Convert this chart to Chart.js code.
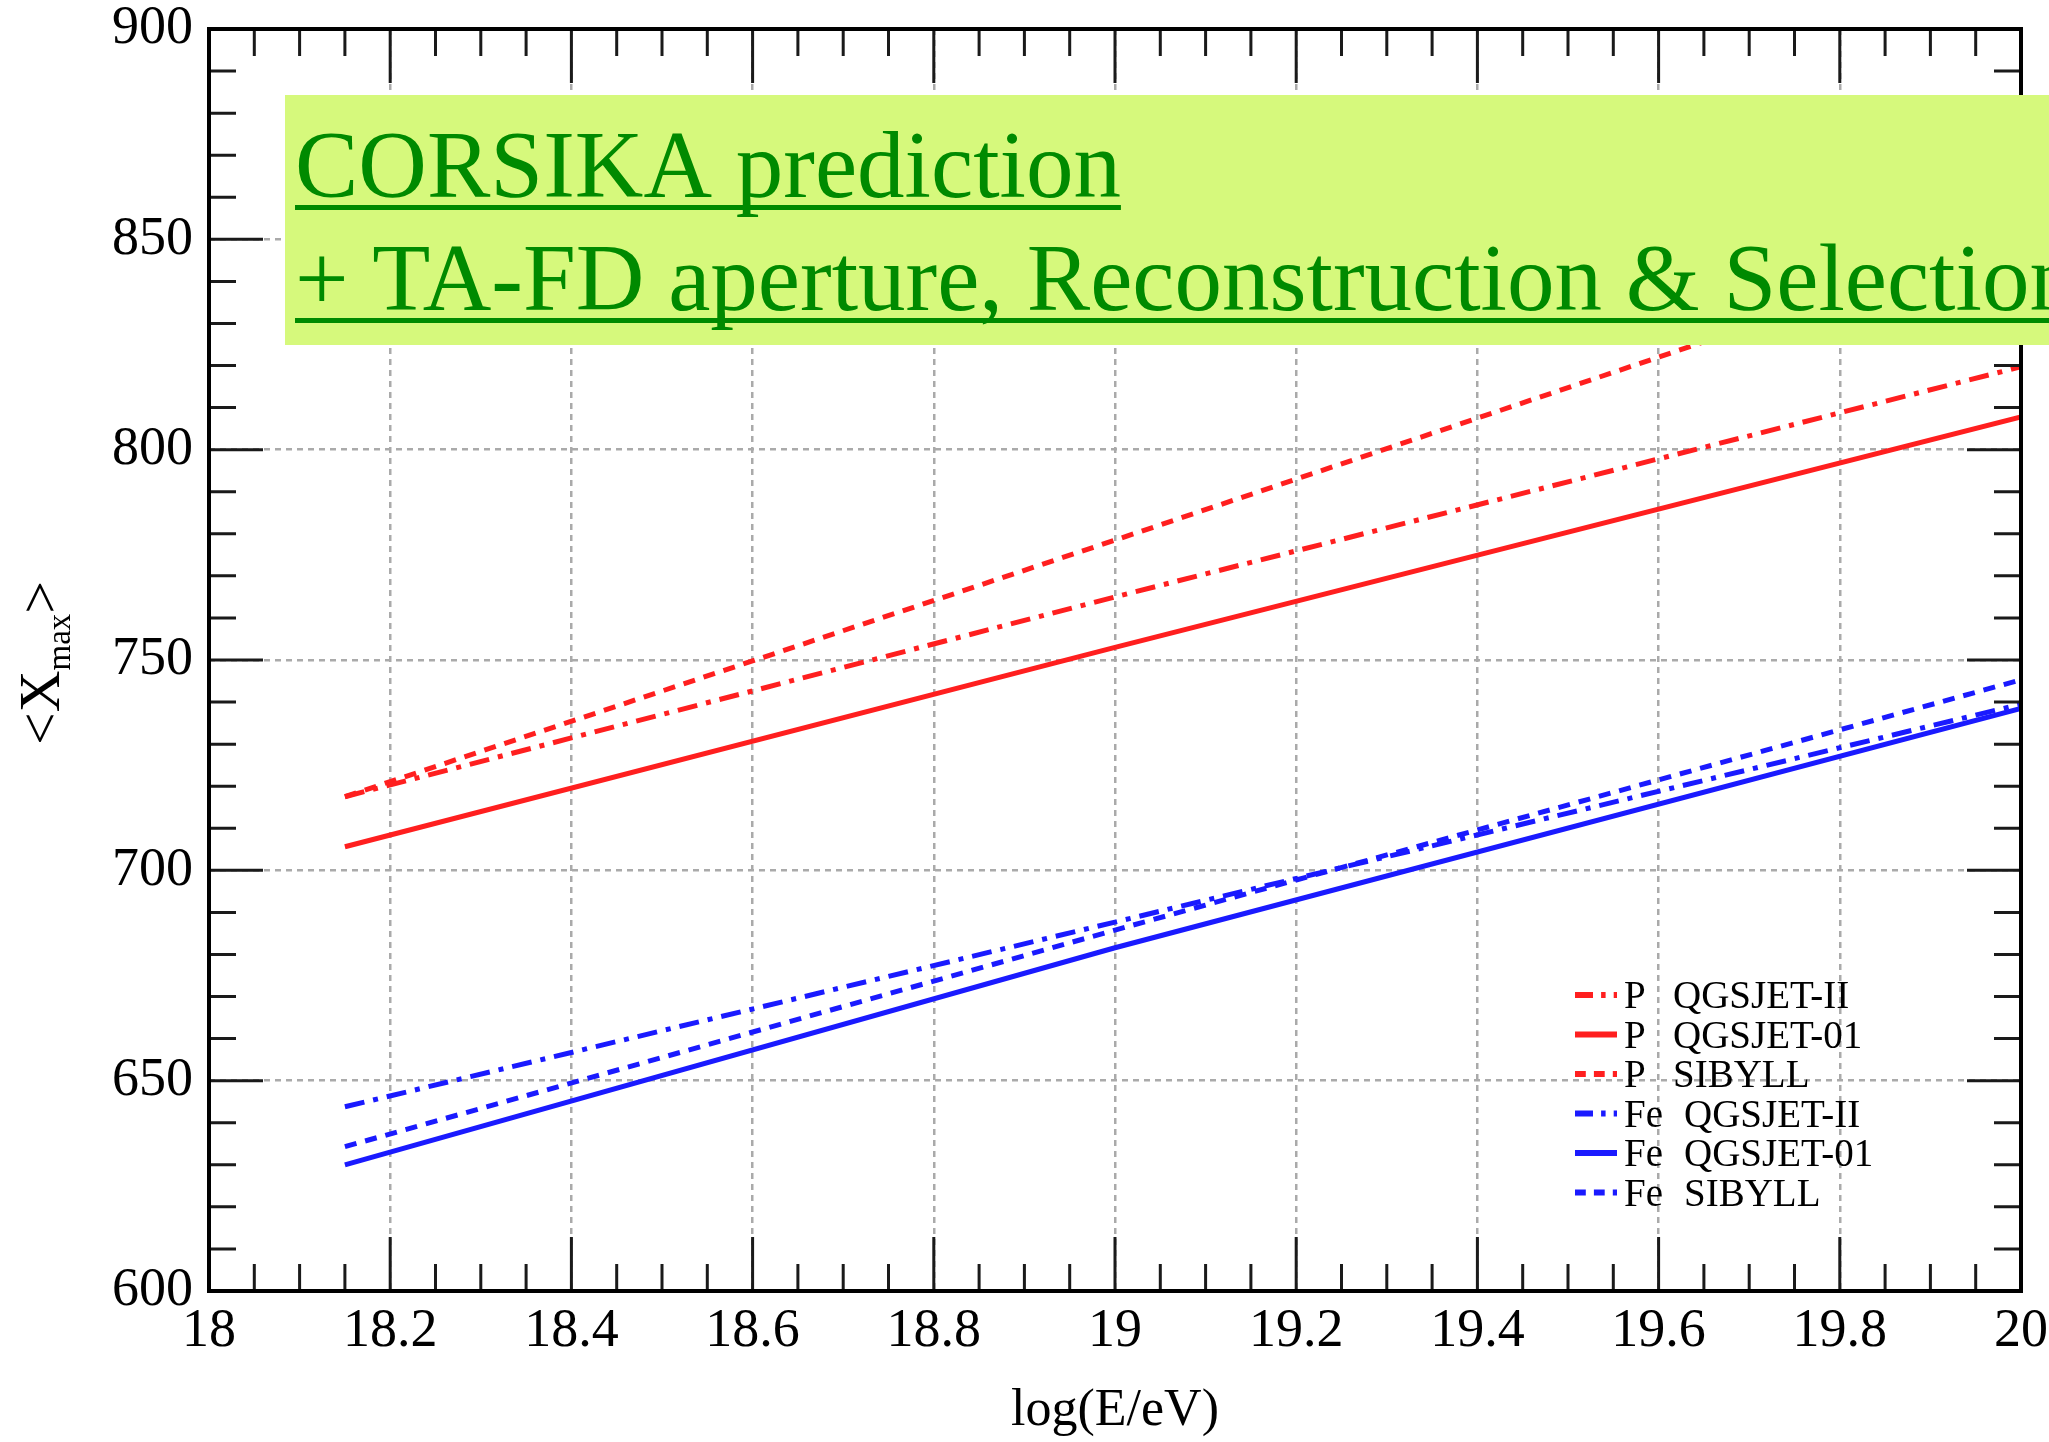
<!DOCTYPE html>
<html>
<head>
<meta charset="utf-8">
<script src="https://cdn.jsdelivr.net/npm/chart.js@4.4.1/dist/chart.umd.min.js"></script>
<style>
  html, body { margin: 0; padding: 0; background: #fff; }
  #xmaxChart { display: block; }
</style>
</head>
<body>
<canvas id="xmaxChart" width="2049" height="1442"></canvas>
<script>
const logE = [18.15, 19.0, 20.0];

// <Xmax> for each primary / hadronic model
const pQgsjetII = [717.5, 765.0, 819.7];
const pQgsjet01 = [705.6, 753.0, 807.8];
const pSibyll = [717.5, 778.5, 851.0];
const feQgsjetII = [643.8, 687.7, 739.5];
const feQgsjet01 = [630.0, 681.6, 738.5];
const feSibyll = [634.3, 685.8, 745.3];

// axis ticks
const xTicks = [18, 18.2, 18.4, 18.6, 18.8, 19, 19.2, 19.4, 19.6, 19.8, 20];
const yTicks = [600, 650, 700, 750, 800, 850, 900];

const legendPrimary = ['P', 'P', 'P', 'Fe', 'Fe', 'Fe'];
const legendModel = ['QGSJET-II', 'QGSJET-01', 'SIBYLL', 'QGSJET-II', 'QGSJET-01', 'SIBYLL'];

const annotationLines = ['CORSIKA prediction', '+ TA-FD aperture, Reconstruction & Selection'];

const RED = '#ff1f1f';
const BLUE = '#1a1aff';
const DASHDOT = [20, 9, 5, 9];
const DASHED = [12, 9];
const SERIF = '"Liberation Serif", "Times New Roman", serif';

function toPoints(ys) {
    return logE.map((x, i) => ({ x: x, y: ys[i] }));
}

function lineSet(label, ys, color, dash) {
    return {
        label: label,
        data: toPoints(ys),
        borderColor: color,
        backgroundColor: color,
        borderWidth: 5,
        borderDash: dash,
        pointRadius: 0,
        tension: 0,
        fill: false
    };
}

const datasets = [
    lineSet('P QGSJET-II', pQgsjetII, RED, DASHDOT),
    lineSet('P QGSJET-01', pQgsjet01, RED, []),
    lineSet('P SIBYLL', pSibyll, RED, DASHED),
    lineSet('Fe QGSJET-II', feQgsjetII, BLUE, DASHDOT),
    lineSet('Fe QGSJET-01', feQgsjet01, BLUE, []),
    lineSet('Fe SIBYLL', feSibyll, BLUE, DASHED)
];

// frame, inner tick marks on all four sides
const framePlugin = {
    id: 'frame',
    afterDatasetsDraw(chart) {
        const { ctx, chartArea: a, scales: { x, y } } = chart;
        ctx.save();
        ctx.strokeStyle = '#1a1a1a';
        ctx.lineWidth = 3;
        ctx.setLineDash([]);
        for (let i = 0; i <= 40; i++) {
            const px = x.getPixelForValue(18 + i * 0.05);
            const len = i % 4 === 0 ? 54 : 27;
            ctx.beginPath();
            ctx.moveTo(px, a.bottom); ctx.lineTo(px, a.bottom - len);
            ctx.moveTo(px, a.top); ctx.lineTo(px, a.top + len);
            ctx.stroke();
        }
        for (let v = 600; v <= 900; v += 10) {
            const py = y.getPixelForValue(v);
            const len = v % 50 === 0 ? 54 : 27;
            ctx.beginPath();
            ctx.moveTo(a.left, py); ctx.lineTo(a.left + len, py);
            ctx.moveTo(a.right, py); ctx.lineTo(a.right - len, py);
            ctx.stroke();
        }
        ctx.lineWidth = 4;
        ctx.strokeStyle = '#000';
        ctx.strokeRect(a.left, a.top, a.right - a.left, a.bottom - a.top);
        ctx.restore();
    }
};

// legend in the lower right of the plot
const legendPlugin = {
    id: 'modelLegend',
    afterDatasetsDraw(chart) {
        const { ctx } = chart;
        ctx.save();
        ctx.font = '39px ' + SERIF;
        ctx.textBaseline = 'alphabetic';
        datasets.forEach((ds, i) => {
            const rowY = 995 + i * 39.5;
            ctx.strokeStyle = ds.borderColor;
            ctx.lineWidth = 6;
            ctx.setLineDash(ds.borderDash.length ? ds.borderDash.map(d => d * 0.9) : []);
            ctx.beginPath();
            ctx.moveTo(1575, rowY);
            ctx.lineTo(1617, rowY);
            ctx.stroke();
            ctx.setLineDash([]);
            ctx.fillStyle = '#000';
            ctx.fillText(legendPrimary[i], 1624, rowY + 13);
            ctx.fillText(legendModel[i], legendPrimary[i] === 'P' ? 1673 : 1684, rowY + 13);
        });
        ctx.restore();
    }
};

// axis titles and the green annotation box
const textPlugin = {
    id: 'texts',
    afterDraw(chart) {
        const { ctx, chartArea: a } = chart;
        ctx.save();
        // x title
        ctx.fillStyle = '#000';
        ctx.font = '52px ' + SERIF;
        ctx.textAlign = 'center';
        ctx.textBaseline = 'middle';
        ctx.fillText('log(E/eV)', (a.left + a.right) / 2, 1411);

        // y title <X_max>, rotated
        ctx.translate(39, 663);
        ctx.rotate(-Math.PI / 2);
        ctx.textAlign = 'left';
        ctx.textBaseline = 'alphabetic';
        const big = '58px ' + SERIF, small = '33px ' + SERIF;
        ctx.font = big;
        const w1 = ctx.measureText('<X').width;
        const w3 = ctx.measureText('>').width;
        ctx.font = small;
        const w2 = ctx.measureText('max').width;
        let u = -(w1 + w2 + w3) / 2;
        ctx.font = big;
        ctx.fillText('<X', u, 20);
        u += w1;
        ctx.font = small;
        ctx.fillText('max', u, 31);
        u += w2;
        ctx.font = big;
        ctx.fillText('>', u, 20);
        ctx.restore();

        // annotation box
        ctx.save();
        ctx.fillStyle = '#d6f97c';
        ctx.fillRect(285, 95, chart.width - 285, 250);
        ctx.fillStyle = '#008a00';
        ctx.font = '95px ' + SERIF;
        ctx.textBaseline = 'alphabetic';
        const baselines = [197, 310];
        annotationLines.forEach((t, i) => {
            ctx.fillText(t, 295, baselines[i]);
            const w = ctx.measureText(t).width;
            ctx.fillRect(295, baselines[i] + 8, w, 5);
        });
        ctx.restore();
    }
};

const ctx = document.getElementById('xmaxChart').getContext('2d');
const xmaxChart = new Chart(ctx, {
    type: 'line',
    data: { datasets: datasets },
    options: {
        responsive: false,
        animation: false,
        layout: { padding: { top: 29, right: 28, left: 0, bottom: 0 } },
        plugins: {
            legend: { display: false },
            tooltip: { enabled: false }
        },
        scales: {
            x: {
                type: 'linear',
                min: 18,
                max: 20,
                afterBuildTicks: (scale) => { scale.ticks = xTicks.map(v => ({ value: v })); },
                afterFit: (scale) => {
                    scale.height = 151;
                    scale.paddingLeft = 0;
                    scale.paddingRight = 0;
                },
                ticks: {
                    font: { family: SERIF, size: 54 },
                    color: '#000',
                    padding: 8,
                    maxRotation: 0,
                    callback: (v) => String(Number(v.toFixed(1)))
                },
                grid: { color: '#aaaaaa', lineWidth: 2.5, drawTicks: false },
                border: { display: false, dash: [6, 5] }
            },
            y: {
                type: 'linear',
                min: 600,
                max: 900,
                afterBuildTicks: (scale) => { scale.ticks = yTicks.map(v => ({ value: v })); },
                afterFit: (scale) => {
                    scale.width = 209;
                    scale.paddingTop = 0;
                    scale.paddingBottom = 0;
                },
                ticks: {
                    font: { family: SERIF, size: 54 },
                    color: '#000',
                    padding: 16
                },
                grid: { color: '#aaaaaa', lineWidth: 2.5, drawTicks: false },
                border: { display: false, dash: [6, 5] }
            }
        }
    },
    plugins: [framePlugin, legendPlugin, textPlugin]
});
</script>
</body>
</html>
